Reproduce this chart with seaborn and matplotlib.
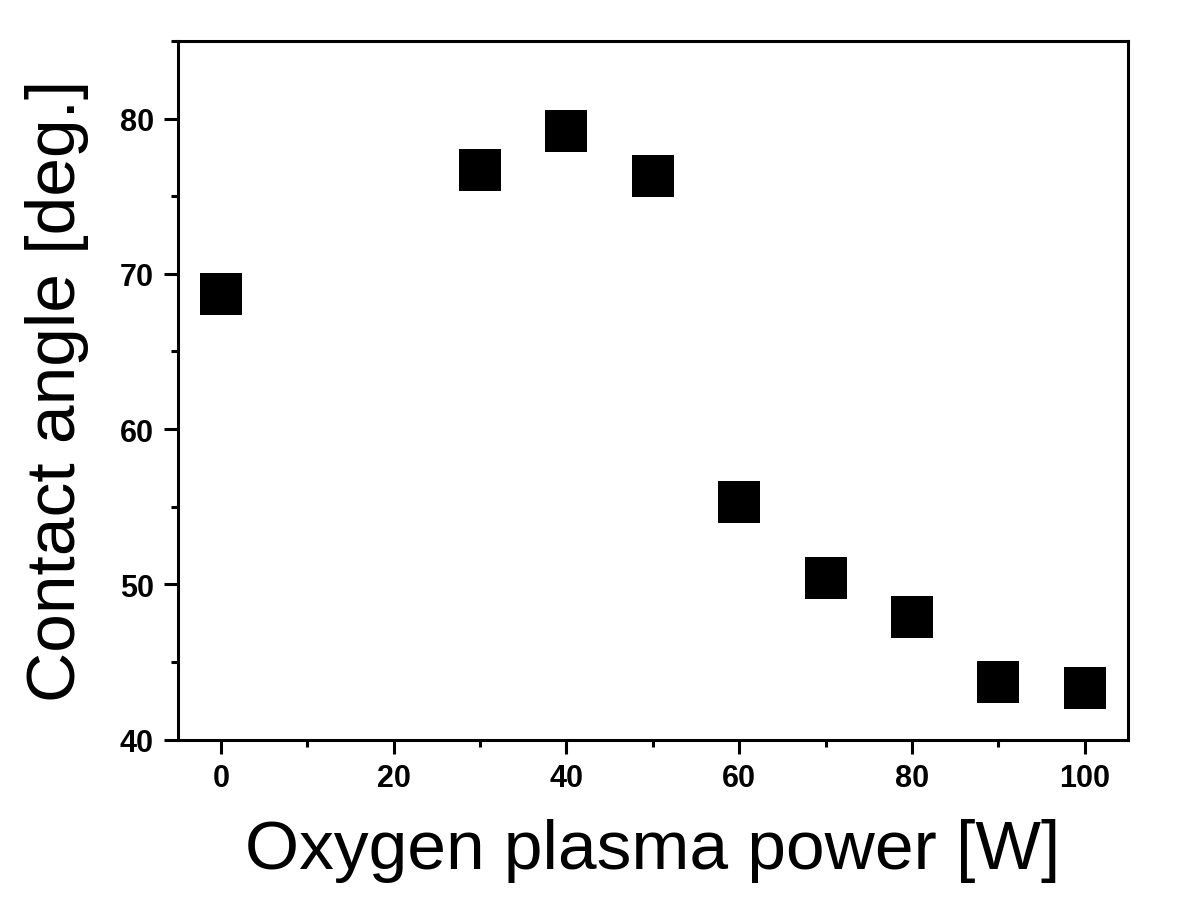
import matplotlib
matplotlib.use("Agg")
import matplotlib.pyplot as plt
from matplotlib.ticker import MultipleLocator
import pandas as pd
import seaborn as sns

power = [0, 30, 40, 50, 60, 70, 80, 90, 100]
angle = [68.7, 76.7, 79.2, 76.3, 55.3, 50.4, 47.9, 43.7, 43.3]

sns.set_theme(style="ticks")
plt.rcParams['font.family'] = ['Liberation Sans', 'DejaVu Sans']
plt.rcParams['text.color'] = 'black'
plt.rcParams['axes.labelcolor'] = 'black'
plt.rcParams['xtick.color'] = 'black'
plt.rcParams['ytick.color'] = 'black'

df = pd.DataFrame({"power": power, "angle": angle})

fig = plt.figure(figsize=(12, 9.12), dpi=100)
ax = fig.add_axes([0.148, 0.188, 0.792, 0.766])

sns.scatterplot(data=df, x="power", y="angle", marker="s", s=900,
                color="black", edgecolor="black", linewidth=0, ax=ax)

ax.set_xlim(-5, 105)
ax.set_ylim(40, 85)
ax.xaxis.set_major_locator(MultipleLocator(20))
ax.xaxis.set_minor_locator(MultipleLocator(10))
ax.yaxis.set_major_locator(MultipleLocator(10))
ax.yaxis.set_minor_locator(MultipleLocator(5))
ax.set_yticks([40, 50, 60, 70, 80])

for s in ax.spines.values():
    s.set_linewidth(2.2)
    s.set_color("black")
ax.tick_params(which="major", direction="out", length=10, width=2.2,
               labelsize=22, pad=7, top=False, right=False,
               color="black", labelcolor="black")
ax.tick_params(which="minor", direction="out", length=5, width=2.2,
               top=False, right=False, color="black")
for lab in ax.get_xticklabels() + ax.get_yticklabels():
    lab.set_fontweight("bold")

ax.set_xlabel("Oxygen plasma power [W]", fontsize=50, labelpad=18)
ax.set_ylabel("Contact angle [deg.]", fontsize=50, labelpad=22)

fig.savefig("out.png", dpi=100, facecolor="white")
